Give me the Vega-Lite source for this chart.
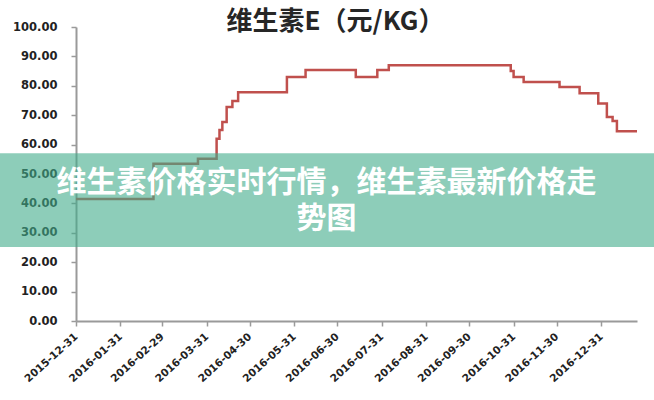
{
  "$schema": "https://vega.github.io/schema/vega-lite/v6.json",
  "width": 561,
  "height": 294,
  "autosize": {"type": "none"},
  "padding": {"left": 76, "top": 27, "right": 17, "bottom": 79},
  "background": "white",
  "config": {
    "view": {"stroke": null},
    "axis": {
      "title": null,
      "grid": false,
      "zindex": 0,
      "labelOverlap": false,
      "labelFlush": false,
      "labelFont": "DejaVu Sans",
      "labelFontWeight": "bold",
      "labelColor": "#222222",
      "domainColor": "#9a9a9a",
      "domainWidth": 2,
      "tickColor": "#9a9a9a",
      "tickWidth": 1.5,
      "tickSize": 5
    },
    "axisX": {
      "labelAngle": -42,
      "labelAlign": "right",
      "labelBaseline": "middle",
      "labelPadding": 9,
      "labelFontSize": 10.5
    },
    "axisY": {
      "labelFontSize": 11.5,
      "labelPadding": 14,
      "tickCount": 11,
      "format": ".2f"
    }
  },
  "title": {
    "text": "维生素E（元/KG）",
    "font": "Noto Sans CJK SC",
    "fontSize": 26,
    "fontWeight": "bold",
    "color": "#262626",
    "anchor": "middle",
    "frame": "group",
    "baseline": "alphabetic",
    "dx": -21,
    "offset": -35
  },
  "data": {
    "values": [
      {"date": "2015-12-31", "price": 41.5},
      {"date": "2016-02-23", "price": 53.5},
      {"date": "2016-03-25", "price": 55.2},
      {"date": "2016-04-07", "price": 62.0},
      {"date": "2016-04-09", "price": 65.0},
      {"date": "2016-04-11", "price": 67.7},
      {"date": "2016-04-14", "price": 72.8},
      {"date": "2016-04-18", "price": 74.8},
      {"date": "2016-04-22", "price": 77.8},
      {"date": "2016-05-26", "price": 83.0},
      {"date": "2016-06-08", "price": 85.4},
      {"date": "2016-07-13", "price": 83.0},
      {"date": "2016-07-28", "price": 85.4},
      {"date": "2016-08-05", "price": 87.0},
      {"date": "2016-10-29", "price": 85.0},
      {"date": "2016-10-31", "price": 83.0},
      {"date": "2016-11-07", "price": 81.3},
      {"date": "2016-12-02", "price": 79.6},
      {"date": "2016-12-16", "price": 77.5},
      {"date": "2016-12-29", "price": 74.0},
      {"date": "2017-01-04", "price": 69.4},
      {"date": "2017-01-08", "price": 68.0},
      {"date": "2017-01-11", "price": 64.5},
      {"date": "2017-01-25", "price": 64.5}
    ]
  },
  "layer": [
    {
      "mark": {"type": "line", "interpolate": "step-after", "color": "#c0504d", "strokeWidth": 2.5},
      "encoding": {
        "x": {
          "field": "date",
          "type": "temporal",
          "scale": {
            "type": "utc",
            "domain": [
              {"year": 2015, "month": 12, "date": 31, "utc": true},
              {"year": 2017, "month": 1, "date": 25, "utc": true}
            ],
            "nice": false
          },
          "axis": {
            "format": "%Y-%m-%d",
            "values": [
              {"year": 2015, "month": 12, "date": 31, "utc": true},
              {"year": 2016, "month": 1, "date": 31, "utc": true},
              {"year": 2016, "month": 2, "date": 29, "utc": true},
              {"year": 2016, "month": 3, "date": 31, "utc": true},
              {"year": 2016, "month": 4, "date": 30, "utc": true},
              {"year": 2016, "month": 5, "date": 31, "utc": true},
              {"year": 2016, "month": 6, "date": 30, "utc": true},
              {"year": 2016, "month": 7, "date": 31, "utc": true},
              {"year": 2016, "month": 8, "date": 31, "utc": true},
              {"year": 2016, "month": 9, "date": 30, "utc": true},
              {"year": 2016, "month": 10, "date": 31, "utc": true},
              {"year": 2016, "month": 11, "date": 30, "utc": true},
              {"year": 2016, "month": 12, "date": 31, "utc": true}
            ]
          }
        },
        "y": {
          "field": "price",
          "type": "quantitative",
          "scale": {"domain": [0, 100], "nice": false, "zero": true},
          "axis": {
            "values": [0, 10, 20, 30, 40, 50, 60, 70, 80, 90, 100],
            "tickCount": 11,
            "format": ".2f"
          }
        }
      }
    },
    {
      "data": {"values": [{"band": "banner"}]},
      "mark": {"type": "rect", "fill": "#41ac8a", "fillOpacity": 0.6, "clip": false},
      "encoding": {
        "x": {"datum": {"year": 2015, "month": 10, "date": 1, "utc": true}, "type": "temporal"},
        "x2": {"datum": {"year": 2017, "month": 3, "date": 31, "utc": true}},
        "y": {"datum": 57.1, "type": "quantitative"},
        "y2": {"datum": 25.2}
      }
    },
    {
      "data": {"values": [{"band": "banner"}]},
      "mark": {
        "type": "text",
        "text": ["维生素价格实时行情，维生素最新价格走", "势图"],
        "font": "Noto Sans CJK SC",
        "fontSize": 30,
        "fontWeight": "bold",
        "color": "white",
        "align": "center",
        "baseline": "middle",
        "lineHeight": 36
      },
      "encoding": {
        "x": {"datum": {"year": 2016, "month": 6, "date": 22, "hours": 14, "utc": true}, "type": "temporal"},
        "y": {"datum": 46.9, "type": "quantitative"}
      }
    }
  ]
}
